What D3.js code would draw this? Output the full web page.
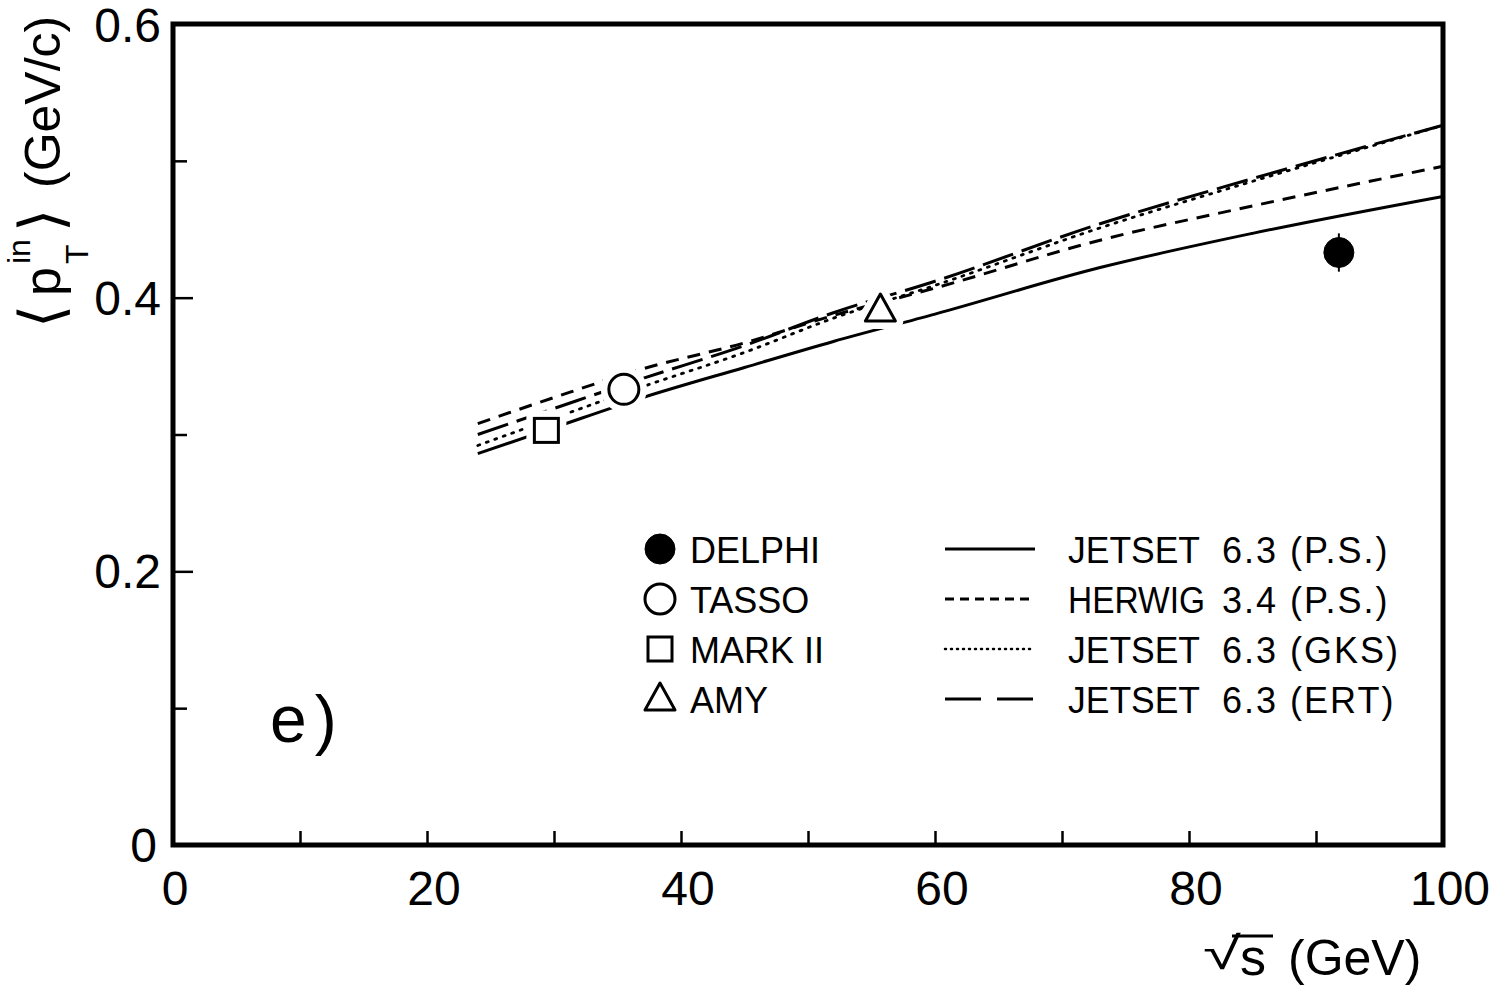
<!DOCTYPE html>
<html lang="en">
<head>
<meta charset="UTF-8">
<title>pT in vs sqrt(s)</title>
<style>
  body { margin: 0; background: #fff; }
  text { font-family: "Liberation Sans", Arial, sans-serif; fill: #000; }
</style>
</head>
<body>
<svg width="1503" height="985"></svg>
<script src="https://d3js.org/d3.v7.min.js"></script>
<script>
// model curves
var energies  = [24, 30, 37, 45, 52, 60, 73, 85, 100];
var jetsetPS  = [0.286, 0.305, 0.327, 0.349, 0.368, 0.388, 0.422, 0.447, 0.474];
var herwigPS  = [0.308, 0.327, 0.348, 0.367, 0.387, 0.407, 0.442, 0.467, 0.496];
var jetsetGKS = [0.292, 0.312, 0.335, 0.360, 0.385, 0.409, 0.451, 0.485, 0.526];
var jetsetERT = [0.300, 0.319, 0.341, 0.365, 0.389, 0.412, 0.454, 0.487, 0.526];

// measurements
var expNames = ["DELPHI", "TASSO", "MARK II", "AMY"];
var expX     = [91.8, 35.5, 29.4, 55.7];
var expY     = [0.433, 0.333, 0.303, 0.391];
var expErr   = [0.014, 0, 0, 0];

var modelNames   = ["JETSET", "HERWIG", "JETSET", "JETSET"];
var modelVersion = ["6.3 (P.S.)", "3.4 (P.S.)", "6.3 (GKS)", "6.3 (ERT)"];

var xTickLabels = [0, 20, 40, 60, 80, 100];
var yTickLabels = [0, 0.2, 0.4, 0.6];

var svg = d3.select("svg");
var x = d3.scaleLinear().domain([0, 100]).range([173, 1443]);
var y = d3.scaleLinear().domain([0, 0.6]).range([845, 24]);

var dashes = ["none", "13,9", "2,7", "32,9"];
var series = [jetsetPS, herwigPS, jetsetGKS, jetsetERT];

// ticks (inside)
var gx = svg.append("g").attr("transform", "translate(0,845)")
    .call(d3.axisBottom(x).tickValues(d3.range(10, 100, 10)).tickSize(-14).tickFormat(""));
gx.select(".domain").remove();
gx.selectAll("line").attr("stroke", "#000").attr("stroke-width", 2.5);

var gy = svg.append("g").attr("transform", "translate(173,0)")
    .call(d3.axisLeft(y).tickValues([0.1, 0.2, 0.3, 0.4, 0.5]).tickSize(-14).tickFormat(""));
gy.select(".domain").remove();
gy.selectAll("line").attr("stroke", "#000").attr("stroke-width", 2.5)
    .attr("x2", function(d) { return Math.round(d * 10) % 2 == 0 ? 20 : 14; });

// frame
svg.append("rect")
    .attr("x", x(0)).attr("y", y(0.6))
    .attr("width", x(100) - x(0)).attr("height", y(0) - y(0.6))
    .attr("fill", "none").attr("stroke", "#000").attr("stroke-width", 5);

// tick labels
svg.selectAll(".xl").data(xTickLabels).enter().append("text")
    .attr("x", function(d) { return x(d) + (d == 0 ? 2 : 7); })
    .attr("y", 905)
    .attr("text-anchor", "middle")
    .attr("font-size", 48)
    .text(function(d) { return d; });

svg.selectAll(".yl").data(yTickLabels).enter().append("text")
    .attr("x", function(d) { return d == 0 ? 157 : 161; })
    .attr("y", function(d) { return y(d) + 17 + (d == 0.6 ? 1 : 0); })
    .attr("text-anchor", "end")
    .attr("font-size", 48)
    .text(function(d) { return d == 0 ? "0" : d.toFixed(1); });

// curves
var line = d3.line()
    .x(function(d) { return x(d[0]); })
    .y(function(d) { return y(d[1]); })
    .curve(d3.curveMonotoneX);

series.forEach(function(s, i) {
  svg.append("path")
      .datum(d3.zip(energies, s))
      .attr("d", line)
      .attr("fill", "none")
      .attr("stroke", "#000")
      .attr("stroke-width", i == 2 ? 2.8 : 3)
      .attr("stroke-linecap", i == 2 ? "round" : "butt")
      .attr("stroke-dasharray", dashes[i]);
});

// marker drawing
function marker(g, kind, cx, cy, halo) {
  var sw = halo ? 16 : 3;
  var col = halo ? "#fff" : "#000";
  if (kind == 0) {
    g.append("circle").attr("cx", cx).attr("cy", cy).attr("r", 15)
        .attr("fill", halo ? "#fff" : "#000").attr("stroke", col).attr("stroke-width", halo ? 12 : 1);
  } else if (kind == 1) {
    g.append("circle").attr("cx", cx).attr("cy", cy).attr("r", 15)
        .attr("fill", "#fff").attr("stroke", col).attr("stroke-width", sw);
  } else if (kind == 2) {
    g.append("rect").attr("x", cx - 12).attr("y", cy - 12).attr("width", 24).attr("height", 24)
        .attr("fill", "#fff").attr("stroke", col).attr("stroke-width", sw);
  } else {
    g.append("path")
        .attr("d", "M" + cx + "," + (cy - 16) + "L" + (cx + 15) + "," + (cy + 11) + "L" + (cx - 15) + "," + (cy + 11) + "Z")
        .attr("fill", "#fff").attr("stroke", col).attr("stroke-width", sw)
        .attr("stroke-linejoin", "round");
  }
}

var gm = svg.append("g");
expNames.forEach(function(n, i) {
  if (expErr[i] > 0) {
    gm.append("line")
        .attr("x1", x(expX[i])).attr("x2", x(expX[i]))
        .attr("y1", y(expY[i] - expErr[i])).attr("y2", y(expY[i] + expErr[i]))
        .attr("stroke", "#000").attr("stroke-width", 2);
  }
  if (i > 0) marker(gm, i, x(expX[i]), y(expY[i]), true);
  marker(gm, i, x(expX[i]), y(expY[i]), false);
});

// legend
var nameWidth = [132, 137, 132, 132];
var lg = svg.append("g");
expNames.forEach(function(n, i) {
  var cy = 549 + i * 50;
  marker(lg, i, 660, cy, false);
  lg.append("text").attr("x", 690).attr("y", cy + 14).attr("font-size", 36).text(n);
  lg.append("line")
      .attr("x1", 945).attr("x2", 1035).attr("y1", cy).attr("y2", cy)
      .attr("stroke", "#000")
      .attr("stroke-width", i == 2 ? 2.5 : 3)
      .attr("stroke-linecap", i == 2 ? "round" : "butt")
      .attr("stroke-dasharray", i == 3 ? "36,16" : i == 2 ? "1,5" : i == 1 ? "9,6" : "none");
  lg.append("text").attr("x", 1068).attr("y", cy + 14).attr("font-size", 36)
      .attr("textLength", nameWidth[i]).attr("lengthAdjust", "spacingAndGlyphs")
      .text(modelNames[i]);
  lg.append("text").attr("x", 1222).attr("y", cy + 14).attr("font-size", 36)
      .attr("letter-spacing", 2).text(modelVersion[i]);
});

// panel label
svg.append("text").attr("x", 270).attr("y", 742).attr("font-size", 66)
    .attr("letter-spacing", 8).text("e)");

// x title
svg.append("text").attr("transform", "translate(1203,969) scale(1.5,1)")
    .attr("font-size", 46).attr("font-family", "DejaVu Sans").text("\u221A");
svg.append("line").attr("x1", 1232).attr("x2", 1273).attr("y1", 936).attr("y2", 936)
    .attr("stroke", "#000").attr("stroke-width", 3);
svg.append("text").attr("x", 1240).attr("y", 975).attr("font-size", 52).text("s");
svg.append("text").attr("x", 1288).attr("y", 975).attr("font-size", 50).text("(GeV)");

// y title (rotated)
var yt = svg.append("g").attr("transform", "translate(60,0) rotate(-90)");
yt.append("text").attr("x", -328).attr("y", 2).attr("font-size", 60)
    .attr("font-family", "DejaVu Sans").text("\u27E8");
yt.append("text").attr("x", -296).attr("y", 0).attr("font-size", 52).text("p");
yt.append("text").attr("x", -264).attr("y", -30).attr("font-size", 32).text("in");
yt.append("text").attr("x", -264).attr("y", 28).attr("font-size", 32).text("T");
yt.append("text").attr("x", -232).attr("y", 2).attr("font-size", 60)
    .attr("font-family", "DejaVu Sans").text("\u27E9");
yt.append("text").attr("x", -188).attr("y", 0).attr("font-size", 50).text("(GeV/c)");
</script>
</body>
</html>
